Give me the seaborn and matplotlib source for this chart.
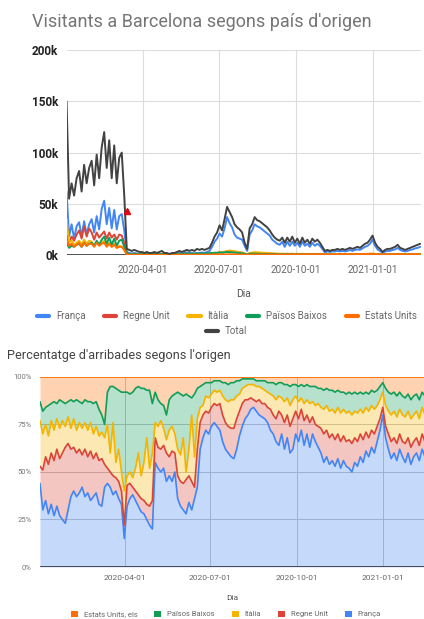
import matplotlib
matplotlib.use("Agg")
import matplotlib.pyplot as plt
import matplotlib.dates as mdates
from matplotlib.lines import Line2D
from matplotlib.patches import Patch
from matplotlib.ticker import FuncFormatter
import numpy as np
import pandas as pd
import seaborn as sns

# one sample every 3 days, from 2020-01-01
START = "2020-01-01"
STEP = "3D"

# visitants (milers) per país d'origen
total = [150, 55, 70, 58, 75, 82, 62, 88, 70, 85,
         92, 68, 98, 75, 105, 120, 85, 112, 75, 107,
         70, 95, 100, 58, 6, 5, 4, 5, 4, 3,
         3, 2, 3, 2, 2, 3, 2, 3, 4, 2,
         2, 1, 2, 2, 3, 4, 3, 4, 5, 4,
         5, 4, 6, 5, 6, 5, 6, 7, 12, 18,
         22, 29, 24, 35, 47, 42, 37, 30, 27, 25,
         22, 12, 6, 26, 30, 37, 34, 33, 31, 29,
         27, 24, 20, 17, 15, 14, 17, 12, 17, 13,
         18, 12, 16, 11, 17, 12, 15, 11, 16, 13,
         15, 12, 8, 4, 5, 4, 5, 5, 6, 5,
         6, 5, 6, 7, 6, 7, 8, 7, 9, 11,
         12, 15, 19, 12, 8, 6, 3, 5, 6, 6,
         7, 8, 10, 7, 6, 5, 6, 7, 8, 9,
         10, 11]
franca = [62, 18, 30, 16, 28, 32, 18, 33, 20, 30,
          35, 22, 38, 25, 45, 53, 30, 46, 26, 44,
          25, 38, 40, 24, 3, 2, 1.5, 2, 1.5, 1,
          1, 0.5, 1, 0.5, 0.5, 1, 0.5, 1, 1, 0.5,
          0.5, 0.5, 1, 1, 1.5, 2, 1.5, 2, 2.5, 2,
          2, 1.5, 2, 2, 2.5, 2, 3, 4, 8, 13,
          16, 21, 18, 26, 37, 31, 27, 20, 17, 16,
          15, 9, 4, 20, 24, 30, 28, 27, 25, 23,
          21, 19, 15, 13, 11, 10, 13, 8, 13, 9,
          13, 9, 12, 8, 13, 9, 11, 8, 12, 9,
          11, 9, 6, 2.5, 3.5, 3, 3.5, 3.5, 4, 3.5,
          4, 3.5, 4, 5, 4, 5, 5.5, 5, 6.5, 8,
          9, 11, 15, 9, 5.5, 4, 2, 3.5, 4, 4,
          5, 5.5, 7, 5, 4, 3.5, 4, 5, 5.5, 6.5,
          7, 8]
regne_unit = [20, 12, 18, 14, 20, 24, 16, 28, 18, 26,
              22, 15, 22, 17, 20, 23, 16, 22, 17, 20,
              15, 20, 19, 12, 1.5, 1, 0.8, 0.8, 0.6, 0.5,
              0.5, 0.4, 0.5, 0.4, 0.4, 0.5, 0.4, 0.5, 0.6, 0.4,
              0.4, 0.3, 0.4, 0.4, 0.5, 0.6, 0.5, 0.6, 0.7, 0.6,
              0.7, 0.6, 0.8, 0.7, 0.8, 0.7, 0.9, 1, 1.2, 1.6,
              2, 2.6, 2.3, 3, 3.6, 3.4, 3.2, 3, 2.6, 2.4,
              2.2, 1.4, 0.8, 1.6, 1.8, 1.8, 1.8, 1.6, 1.6, 1.5,
              1.4, 1.3, 1.3, 1.1, 1, 1, 1.1, 0.9, 1.1, 0.9,
              1.1, 0.8, 1, 0.8, 1, 0.8, 0.9, 0.7, 0.9, 0.8,
              0.9, 0.8, 0.6, 0.4, 0.4, 0.4, 0.5, 0.4, 0.5, 0.5,
              0.5, 0.5, 0.5, 0.6, 0.6, 0.6, 0.7, 0.6, 0.7, 0.8,
              0.9, 1, 1.1, 0.8, 0.6, 0.4, 0.3, 0.4, 0.5, 0.5,
              0.6, 0.6, 0.7, 0.6, 0.5, 0.5, 0.5, 0.6, 0.6, 0.7,
              0.7, 0.8]
italia = [35, 12, 14, 10, 12, 14, 10, 15, 11, 14,
          13, 9, 13, 10, 12, 14, 9, 12, 8, 11,
          7, 9, 8, 5, 0.8, 0.5, 0.4, 0.4, 0.3, 0.3,
          0.3, 0.2, 0.2, 0.2, 0.2, 0.3, 0.2, 0.3, 0.4, 0.3,
          0.3, 0.2, 0.3, 0.3, 0.3, 0.4, 0.3, 0.4, 0.5, 0.4,
          0.5, 0.4, 0.5, 0.5, 0.6, 0.5, 0.6, 0.7, 1, 1.5,
          2, 2.5, 2.5, 3.2, 4, 4.5, 4.2, 3.8, 3.2, 2.8,
          2.4, 1.4, 0.7, 2, 2.4, 2.8, 2.6, 2.4, 2.2, 2.1,
          1.9, 1.8, 1.6, 1.5, 1.3, 1.2, 1.3, 1.1, 1.3, 1.1,
          1.3, 1, 1.2, 0.9, 1.2, 1, 1.1, 0.9, 1.1, 1,
          1.1, 1, 0.8, 0.5, 0.6, 0.5, 0.6, 0.6, 0.7, 0.6,
          0.7, 0.6, 0.7, 0.8, 0.7, 0.8, 0.9, 0.8, 1, 1.1,
          1.2, 1.3, 1.5, 1.1, 0.8, 0.6, 0.4, 0.6, 0.7, 0.7,
          0.8, 0.9, 1, 0.8, 0.7, 0.6, 0.7, 0.8, 0.9, 1,
          1, 1.1]
paisos_baixos = [12, 7, 9, 8, 10, 11, 8, 12, 9, 11,
                 12, 9, 14, 10, 15, 18, 11, 17, 10, 16,
                 9, 14, 15, 8, 1.2, 1, 0.9, 1, 0.9, 0.8,
                 0.9, 0.8, 1, 0.9, 0.8, 1, 0.8, 1, 1.2, 0.9,
                 0.8, 0.6, 0.8, 0.8, 1, 1.2, 1, 1.3, 1.5, 1.3,
                 1.5, 1.3, 1.6, 1.5, 1.6, 1.5, 1.7, 1.8, 2, 2.2,
                 2.2, 2.5, 2.3, 2.6, 3, 2.8, 2.6, 2.4, 2.2, 2,
                 1.8, 1.2, 0.6, 1.2, 1.4, 1.3, 1.3, 1.2, 1.1, 1.1,
                 1.1, 1, 1, 0.9, 0.9, 0.8, 0.9, 0.8, 0.9, 0.8,
                 0.9, 0.7, 0.9, 0.7, 0.9, 0.7, 0.8, 0.7, 0.8, 0.8,
                 0.8, 0.8, 0.6, 0.4, 0.4, 0.4, 0.5, 0.4, 0.5, 0.5,
                 0.5, 0.5, 0.5, 0.6, 0.5, 0.6, 0.6, 0.6, 0.7, 0.8,
                 0.8, 0.9, 1, 0.8, 0.6, 0.5, 0.3, 0.5, 0.5, 0.5,
                 0.6, 0.6, 0.7, 0.6, 0.5, 0.5, 0.5, 0.6, 0.6, 0.7,
                 0.7, 0.8]
estats_units = [15, 9, 11, 8, 10, 12, 8, 12, 9, 11,
                11, 8, 12, 9, 11, 12, 8, 11, 8, 10,
                7, 8, 8, 5, 0.5, 0.3, 0.2, 0.2, 0.2, 0.2,
                0.2, 0.1, 0.2, 0.1, 0.1, 0.2, 0.1, 0.2, 0.2, 0.1,
                0.2, 0.1, 0.2, 0.2, 0.3, 0.4, 0.3, 0.3, 0.4, 0.3,
                0.4, 0.3, 0.4, 0.3, 0.4, 0.3, 0.4, 0.4, 0.4, 0.5,
                0.5, 0.6, 0.5, 0.6, 0.7, 0.7, 0.6, 0.6, 0.6, 0.5,
                0.5, 0.3, 0.2, 0.4, 0.5, 0.5, 0.5, 0.5, 0.5, 0.5,
                0.5, 0.5, 0.6, 0.5, 0.6, 0.5, 0.6, 0.5, 0.6, 0.6,
                0.7, 0.6, 0.7, 0.6, 0.8, 0.7, 0.8, 0.7, 0.8, 0.8,
                0.9, 0.9, 0.8, 0.6, 0.7, 0.6, 0.7, 0.7, 0.8, 0.8,
                0.8, 0.8, 0.8, 0.9, 0.8, 0.9, 0.9, 0.9, 1, 1,
                1, 1, 1, 0.9, 0.8, 0.7, 0.5, 0.7, 0.7, 0.7,
                0.8, 0.8, 0.9, 0.8, 0.7, 0.7, 0.8, 0.8, 0.8, 0.9,
                0.9, 1]

# annotation marker on the total line (start of lockdown)
event_date = "2020-03-13"
event_value = 43

# percentatge d'arribades (share of the five countries)
pct_franca = [44, 30, 35, 28, 33, 27, 32, 27, 25, 23,
              30, 37, 40, 37, 39, 42, 37, 39, 35, 37,
              39, 33, 32, 42, 44, 42, 38, 40, 36, 33,
              15, 32, 36, 38, 35, 32, 29, 28, 25, 22,
              20, 55, 52, 50, 52, 45, 48, 45, 50, 36,
              32, 30, 28, 34, 30, 36, 42, 62, 68, 72,
              70, 74, 76, 74, 72, 66, 62, 60, 58, 57,
              62, 69, 74, 78, 80, 83, 84, 82, 80, 79,
              78, 76, 72, 70, 66, 64, 70, 62, 68, 60,
              62, 70, 66, 72, 64, 70, 63, 70, 66, 63,
              60, 55, 58, 54, 56, 53, 57, 52, 56, 53,
              52, 50, 55, 53, 58, 55, 61, 58, 63, 60,
              66, 72, 80, 68, 62, 57, 60, 56, 62, 58,
              55, 60, 54, 58, 60, 56, 62, 58, 55, 60,
              57, 60]
pct_regne_unit = [9, 21, 23, 26, 27, 29, 30, 30, 35, 40,
                  35, 25, 23, 23, 23, 17, 25, 19, 26, 20,
                  21, 23, 25, 12, 8, 8, 10, 7, 9, 7,
                  7, 11, 8, 4, 5, 6, 7, 7, 8, 10,
                  15, 13, 11, 12, 12, 15, 10, 16, 10, 12,
                  13, 14, 18, 14, 15, 6, 20, 14, 12, 10,
                  11, 10, 10, 11, 14, 14, 14, 14, 15, 16,
                  16, 13, 12, 10, 8, 6, 4, 5, 8, 7,
                  8, 8, 11, 10, 12, 18, 10, 14, 12, 14,
                  16, 12, 12, 11, 13, 10, 13, 9, 9, 11,
                  13, 15, 14, 14, 14, 14, 13, 14, 13, 13,
                  15, 15, 13, 13, 12, 12, 10, 10, 9, 10,
                  8, 6, 4, 6, 8, 9, 8, 9, 8, 8,
                  10, 8, 9, 8, 8, 8, 8, 8, 8, 8,
                  8, 8]
pct_italia = [24, 19, 17, 15, 17, 16, 16, 16, 17, 11,
              14, 11, 15, 12, 14, 14, 14, 14, 15, 13,
              14, 13, 14, 14, 23, 10, 28, 8, 17, 10,
              18, 5, 6, 5, 12, 22, 12, 20, 35, 20,
              25, 8, 11, 15, 9, 7, 14, 13, 10, 14,
              14, 24, 4, 14, 35, 16, 16, 8, 5, 8,
              8, 7, 7, 7, 7, 10, 12, 13, 15, 15,
              12, 9, 8, 7, 8, 7, 8, 8, 7, 8,
              7, 8, 8, 10, 10, 8, 9, 11, 9, 11,
              10, 8, 9, 6, 9, 8, 10, 8, 10, 12,
              11, 13, 13, 14, 13, 14, 14, 15, 14, 15,
              15, 15, 14, 15, 13, 14, 13, 14, 13, 13,
              11, 10, 8, 11, 12, 14, 14, 14, 13, 14,
              14, 14, 15, 14, 14, 14, 14, 14, 14, 14,
              14, 14]
pct_paisos_baixos = [10, 12, 9, 16, 9, 15, 8, 15, 10, 12,
                     8, 15, 9, 16, 11, 13, 12, 15, 11, 16,
                     13, 14, 9, 7, 17, 35, 19, 39, 31, 42,
                     52, 44, 41, 45, 42, 35, 46, 39, 25, 41,
                     26, 16, 14, 9, 12, 13, 16, 16, 21, 30,
                     32, 22, 41, 28, 9, 33, 16, 11, 11, 7,
                     8, 6, 5, 6, 5, 7, 9, 9, 9, 9,
                     8, 7, 5, 4, 3, 3, 3, 3, 3, 4,
                     5, 5, 6, 7, 8, 7, 8, 9, 7, 10,
                     8, 6, 8, 7, 9, 8, 9, 8, 10, 8,
                     10, 10, 9, 11, 10, 11, 9, 11, 9, 10,
                     10, 11, 10, 10, 9, 10, 8, 9, 8, 9,
                     8, 7, 5, 9, 10, 11, 10, 11, 9, 10,
                     10, 9, 10, 10, 9, 10, 8, 10, 11, 9,
                     10, 9]
pct_estats_units = [13, 18, 16, 15, 14, 13, 14, 12, 13, 14,
                    13, 12, 13, 12, 13, 14, 12, 13, 13, 14,
                    13, 17, 20, 25, 8, 5, 5, 6, 7, 8,
                    8, 8, 9, 8, 6, 5, 6, 6, 7, 7,
                    14, 8, 12, 14, 15, 20, 12, 10, 9, 8,
                    9, 10, 9, 10, 11, 9, 6, 5, 4, 3,
                    3, 3, 2, 2, 2, 3, 3, 4, 3, 3,
                    2, 2, 1, 1, 1, 1, 1, 2, 2, 2,
                    2, 3, 3, 3, 4, 3, 3, 4, 4, 5,
                    4, 4, 5, 4, 5, 4, 5, 5, 5, 6,
                    6, 7, 6, 7, 7, 8, 7, 8, 8, 9,
                    8, 9, 8, 9, 8, 9, 8, 9, 7, 8,
                    7, 5, 3, 6, 8, 9, 8, 10, 8, 10,
                    11, 9, 12, 10, 9, 12, 8, 10, 12, 9,
                    11, 9]

BLUE, RED, YELLOW, GREEN, ORANGE = "#4285F4", "#DB4437", "#F4B400", "#0F9D58", "#FF6D00"
TOTAL_COLOR = "#424242"

sns.set_theme(style="white")
plt.rcParams["font.family"] = ["Roboto", "DejaVu Sans"]

dates = pd.date_range(START, periods=len(total), freq=STEP)
tick_dates = pd.to_datetime(["2020-04-01", "2020-07-01", "2020-10-01", "2021-01-01"])

fig = plt.figure(figsize=(4.24, 6.19), dpi=100)

# ---------------- top chart: visitants ----------------
ax1 = fig.add_axes([0.157, 0.588, 0.836, 0.331])

series = {"França": franca, "Regne Unit": regne_unit, "Itàlia": italia,
          "Països Baixos": paisos_baixos, "Estats Units": estats_units, "Total": total}
palette = {"França": BLUE, "Regne Unit": RED, "Itàlia": YELLOW,
           "Països Baixos": GREEN, "Estats Units": ORANGE, "Total": TOTAL_COLOR}
df = pd.concat([pd.DataFrame({"Dia": dates, "visitants": np.array(v) * 1000, "país": k})
                for k, v in series.items()], ignore_index=True)

sns.lineplot(data=df, x="Dia", y="visitants", hue="país", palette=palette,
             linewidth=1.4, legend=False, ax=ax1)
ax1.plot(pd.to_datetime(event_date), event_value * 1000, marker="^", color="#E8000B",
         markersize=5, linestyle="none")

ax1.set_xlim(dates[0], pd.Timestamp("2021-02-28"))
ax1.set_ylim(0, 200000)
ax1.set_yticks([0, 50000, 100000, 150000, 200000])
ax1.yaxis.set_major_formatter(FuncFormatter(lambda v, p: f"{int(v / 1000)}k"))
ax1.set_xticks(tick_dates)
ax1.xaxis.set_major_formatter(mdates.DateFormatter("%Y-%m-%d"))
ax1.grid(True, color="#dcdcdc", linewidth=0.8)
for s in ax1.spines.values():
    s.set_visible(False)
ax1.axhline(0, color="#333333", linewidth=1.2, zorder=1)
ax1.tick_params(axis="y", length=0, pad=6, labelsize=8.5, labelcolor="#222222")
ax1.tick_params(axis="x", length=0, pad=7, labelsize=7.2, labelcolor="#666666")
for lab in ax1.get_yticklabels():
    lab.set_fontweight("bold")
ax1.set_xlabel("Dia", fontsize=7.5, color="#555555", labelpad=10)
ax1.set_ylabel("")

fig.text(32 / 424, 1 - 22 / 619, "Visitants a Barcelona segons país d'origen",
         fontsize=13, color="#757575", va="center", ha="left")

h5 = [Line2D([], [], color=palette[k], linewidth=3) for k in list(series)[:5]]
fig.legend(h5, list(series)[:5], loc="center", bbox_to_anchor=(0.535, 1 - 316 / 619),
           ncol=5, frameon=False, fontsize=7, handlelength=1.25,
           handletextpad=0.7, columnspacing=1.9, labelcolor="#666666")
fig.legend([Line2D([], [], color=TOTAL_COLOR, linewidth=3)], ["Total"], loc="center",
           bbox_to_anchor=(0.535, 1 - 331 / 619), frameon=False, fontsize=7,
           handlelength=1.25, handletextpad=0.7, labelcolor="#666666")

# ---------------- bottom chart: percentatge ----------------
ax2 = fig.add_axes([0.0943, 0.084, 0.9057, 0.307])

shares = [pct_franca, pct_regne_unit, pct_italia, pct_paisos_baixos, pct_estats_units]
share_labels = ["França", "Regne Unit", "Itàlia", "Països Baixos", "Estats Units, els"]
share_colors = [BLUE, RED, YELLOW, GREEN, ORANGE]

ax2.stackplot(dates, *[np.array(s, dtype=float) for s in shares],
              colors=share_colors, alpha=0.3, linewidth=0)
tops = np.cumsum(np.array(shares, dtype=float), axis=0)
for top, c in zip(tops, share_colors):
    sns.lineplot(x=dates, y=top, color=c, linewidth=1.2, ax=ax2)

ax2.set_xlim(dates[0], pd.Timestamp("2021-02-14"))
ax2.set_ylim(0, 100)
ax2.set_yticks([0, 25, 50, 75, 100])
ax2.yaxis.set_major_formatter(FuncFormatter(lambda v, p: f"{int(v)}%"))
ax2.set_xticks(tick_dates)
ax2.xaxis.set_major_formatter(mdates.DateFormatter("%Y-%m-%d"))
ax2.grid(True, color="#c4c4c4", linewidth=0.7)
for s in ax2.spines.values():
    s.set_visible(False)
ax2.axhline(0, color="#333333", linewidth=1.2, zorder=5)
ax2.tick_params(axis="y", length=0, pad=6, labelsize=5.5, labelcolor="#777777")
ax2.tick_params(axis="x", length=0, pad=6, labelsize=6, labelcolor="#666666")
ax2.set_xlabel("Dia", fontsize=6, color="#555555", labelpad=10)
ax2.set_ylabel("")

fig.text(7 / 424, 1 - 356 / 619, "Percentatge d'arribades segons l'origen",
         fontsize=9.2, color="#444444", va="center", ha="left")

hb = [Patch(facecolor=c, edgecolor="none") for c in share_colors[::-1]]
fig.legend(hb, share_labels[::-1], loc="center", bbox_to_anchor=(0.533, 1 - 614 / 619),
           ncol=5, frameon=False, fontsize=5.5, handlelength=0.9, handleheight=0.9,
           handletextpad=0.8, columnspacing=2.2, labelcolor="#666666")

fig.savefig("out.png", dpi=100)
